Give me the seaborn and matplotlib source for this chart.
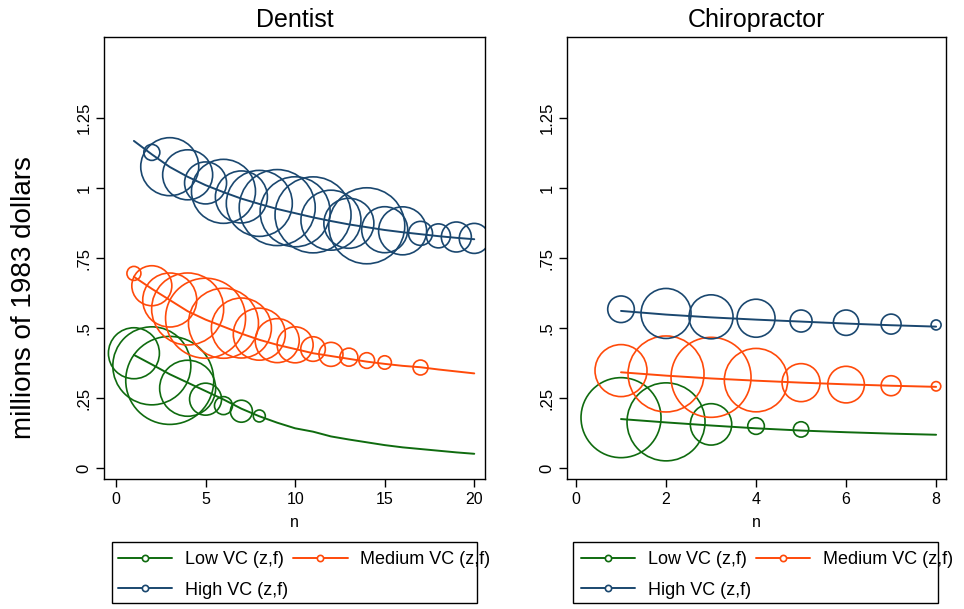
import matplotlib
matplotlib.use("Agg")
import matplotlib.pyplot as plt
from matplotlib.lines import Line2D
from matplotlib.patches import Rectangle
import seaborn as sns
import pandas as pd

# ---- data (millions of 1983 dollars) ----
den_n = list(range(1, 21))
den_low_fit = [0.404, 0.370, 0.335, 0.305, 0.275, 0.245, 0.212, 0.185, 0.162, 0.142,
               0.130, 0.113, 0.102, 0.092, 0.082, 0.074, 0.068, 0.062, 0.056, 0.051]
den_med_fit = [0.683, 0.640, 0.600, 0.560, 0.530, 0.505, 0.480, 0.458, 0.440, 0.425,
               0.410, 0.400, 0.390, 0.380, 0.372, 0.365, 0.360, 0.352, 0.345, 0.338]
den_high_fit = [1.168, 1.120, 1.075, 1.040, 1.010, 0.985, 0.962, 0.943, 0.925, 0.910,
                0.895, 0.882, 0.870, 0.860, 0.850, 0.842, 0.835, 0.828, 0.822, 0.817]

den_low_n = [1, 2, 3, 4, 5, 6, 7, 8]
den_low_v = [0.410, 0.365, 0.313, 0.285, 0.246, 0.223, 0.203, 0.186]
den_low_w = [650, 1521, 1936, 784, 256, 81, 121, 36]

den_med_n = [1, 2, 3, 4, 5, 6, 7, 8, 9, 10, 11, 12, 13, 14, 15, 17]
den_med_v = [0.695, 0.651, 0.600, 0.568, 0.535, 0.517, 0.500, 0.478, 0.455, 0.440,
             0.425, 0.406, 0.396, 0.384, 0.377, 0.359]
den_med_w = [49, 400, 729, 1296, 1600, 1225, 900, 676, 484, 324, 151, 144, 81, 61, 45, 56]

den_high_n = list(range(2, 21))
den_high_v = [1.127, 1.076, 1.047, 1.018, 0.988, 0.968, 0.945, 0.930, 0.915, 0.904,
              0.885, 0.874, 0.865, 0.851, 0.847, 0.838, 0.829, 0.825, 0.820]
den_high_w = [64, 841, 625, 441, 1024, 676, 1089, 1444, 1225, 1444, 900, 625, 1444,
              529, 576, 144, 144, 225, 225]

chi_n = list(range(1, 9))
chi_low_fit = [0.175, 0.163, 0.152, 0.142, 0.134, 0.128, 0.123, 0.119]
chi_med_fit = [0.342, 0.330, 0.320, 0.312, 0.305, 0.299, 0.294, 0.290]
chi_high_fit = [0.561, 0.548, 0.538, 0.530, 0.523, 0.516, 0.510, 0.505]

chi_low_n = [1, 2, 3, 4, 5]
chi_low_v = [0.180, 0.165, 0.156, 0.150, 0.138]
chi_low_w = [1600, 1521, 428, 69, 59]

chi_med_n = list(range(1, 9))
chi_med_v = [0.348, 0.336, 0.324, 0.314, 0.305, 0.298, 0.294, 0.292]
chi_med_w = [676, 1444, 1600, 1005, 361, 335, 100, 22]

chi_high_n = list(range(1, 9))
chi_high_v = [0.567, 0.552, 0.540, 0.535, 0.525, 0.519, 0.514, 0.511]
chi_high_w = [177, 625, 484, 361, 121, 161, 100, 25]

series_labels = ["Low VC (z,f)", "Medium VC (z,f)", "High VC (z,f)"]
yticks = [0, 0.25, 0.5, 0.75, 1.0, 1.25]
ytick_labels = ["0", ".25", ".5", ".75", "1", "1.25"]

colors = {"low": "#0f6b0f", "med": "#ff4a0a", "high": "#1a476f"}

sns.set_style("white")
plt.rcParams["font.family"] = ["Liberation Sans", "DejaVu Sans"]
for k in ["text.color", "axes.labelcolor", "xtick.color", "ytick.color"]:
    plt.rcParams[k] = "black"

fig = plt.figure(figsize=(9.64, 6.09), dpi=100)
ax_den = fig.add_axes([104 / 964, 1 - 479 / 609, 381 / 964, 442 / 609])
ax_chi = fig.add_axes([567 / 964, 1 - 479 / 609, 379 / 964, 442 / 609])

W_MAX = 2000
S_MAX = 2.0736 * W_MAX  # area in pt^2 for radius in px at dpi 100


def draw_panel(ax, n, fits, pts, title, xlim, xticks):
    for key, fit in zip(["low", "med", "high"], fits):
        sns.lineplot(x=n, y=fit, color=colors[key], linewidth=1.4, ax=ax)
    for key, (pn, pv, pw) in zip(["low", "med", "high"], pts):
        df = pd.DataFrame({"n": pn, "v": pv, "w": pw})
        sns.scatterplot(data=df, x="n", y="v", size="w", sizes=(0, S_MAX),
                        size_norm=(0, W_MAX), color=colors[key], facecolor="none",
                        edgecolor=colors[key], linewidth=1.2, legend=False, ax=ax)
    ax.set_xlim(*xlim)
    ax.set_ylim(-0.039, 1.539)
    ax.set_xticks(xticks)
    ax.set_xticklabels([str(t) for t in xticks], fontsize=11.5)
    ax.set_yticks(yticks)
    ax.set_yticklabels(ytick_labels, rotation=90, va="center", fontsize=12)
    ax.tick_params(axis="both", direction="out", length=6, width=1, color="black",
                   left=True, bottom=True, pad=3)
    ax.set_xlabel("n", fontsize=11.5, labelpad=6)
    ax.set_ylabel("")
    ax.set_title(title, fontsize=18, pad=7)
    for s in ax.spines.values():
        s.set_color("black")
        s.set_linewidth(1.0)


draw_panel(ax_den, den_n, [den_low_fit, den_med_fit, den_high_fit],
           [(den_low_n, den_low_v, den_low_w), (den_med_n, den_med_v, den_med_w),
            (den_high_n, den_high_v, den_high_w)],
           "Dentist", (-0.67, 20.6), [0, 5, 10, 15, 20])
draw_panel(ax_chi, chi_n, [chi_low_fit, chi_med_fit, chi_high_fit],
           [(chi_low_n, chi_low_v, chi_low_w), (chi_med_n, chi_med_v, chi_med_w),
            (chi_high_n, chi_high_v, chi_high_w)],
           "Chiropractor", (-0.2, 8.22), [0, 2, 4, 6, 8])

fig.text(24 / 964, 1 - 298 / 609, "millions of 1983 dollars", rotation=90,
         ha="center", va="center", fontsize=20)

# legends below each panel
handles = [Line2D([], [], color=colors[k], lw=1.4, marker="o", markersize=4.5,
                  markerfacecolor="white", markeredgewidth=1.2)
           for k in ["low", "high", "med"]]
labels = [series_labels[0], series_labels[2], series_labels[1]]
for box_x, hx in [(111.7, 118), (573.3, 580.7)]:
    fig.patches.append(Rectangle((box_x / 964, 1 - 602.7 / 609), 365 / 964, 61 / 609,
                                 transform=fig.transFigure, fill=False,
                                 edgecolor="black", linewidth=1.0))
    fig.legend(handles, labels, ncol=2, frameon=False, fontsize=13,
               loc="upper left", bbox_to_anchor=(hx / 964, 1 - 551 / 609),
               borderpad=0, borderaxespad=0, handlelength=3.0, handletextpad=0.7,
               columnspacing=0.3, labelspacing=0.75)

fig.savefig("out.png", dpi=100)
